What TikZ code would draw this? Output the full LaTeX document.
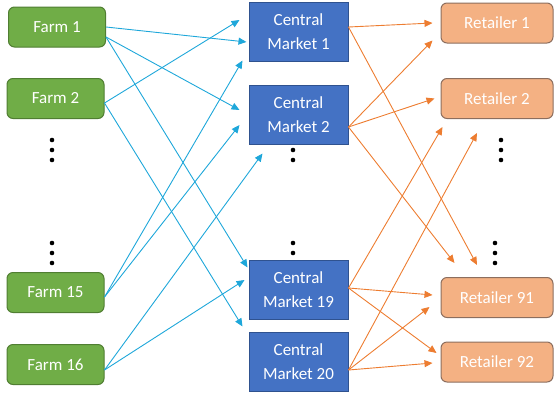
\documentclass[tikz,border=0pt]{standalone}
\usepackage{fontspec}
\setmainfont{Carlito}
\usepackage{xcolor}
\usepackage{tikz}
\usetikzlibrary{arrows.meta}
\definecolor{scgreen}{HTML}{70AD47}
\definecolor{scgreendark}{HTML}{507E32}
\definecolor{scblue}{HTML}{4472C4}
\definecolor{scbluedark}{HTML}{2F528F}
\definecolor{scorange}{HTML}{F4B183}
\definecolor{scorangedark}{HTML}{8C6E5E}
\definecolor{sccyan}{HTML}{1EA7DA}
\definecolor{scarrow}{HTML}{ED7D31}

\begin{document}
\begin{tikzpicture}[
  x=1pt, y=-1pt,
  farm/.style={draw=scgreendark, fill=scgreen, line width=1pt, rounded corners=6pt,
               minimum width=97pt, minimum height=40pt, inner sep=0pt,
               text=white, font=\fontsize{17}{20}\selectfont},
  market/.style={draw=scbluedark, fill=scblue, line width=1pt,
                 minimum width=99pt, minimum height=59pt, inner sep=0pt, align=center,
                 text=white, font=\fontsize{17}{24}\selectfont},
  retailer/.style={draw=scorangedark, fill=scorange, line width=1pt, rounded corners=6pt,
                   minimum width=112pt, minimum height=40pt, inner sep=0pt,
                   text=white, font=\fontsize{17}{20}\selectfont},
  farmarrow/.style={-{Triangle[length=8pt,width=7pt]}, line width=0.9pt, draw=sccyan},
  retailarrow/.style={-{Triangle[length=8pt,width=7pt]}, line width=0.9pt, draw=scarrow}
]
\useasboundingbox (0,0) rectangle (554,394);
% farms
\node[farm] (farm1) at (57,27) {Farm 1};
\node[farm] (farm2) at (55.5,98.5) {Farm 2};
\node[farm] (farm15) at (55.5,292.5) {Farm 15};
\node[farm] (farm16) at (55.5,364.5) {Farm 16};
% central markets
\node[market] (cm1) at (298.5,31.5) {Central\\Market 1};
\node[market] (cm2) at (298.5,114.5) {Central\\Market 2};
\node[market] (cm19) at (298.5,289.5) {Central\\Market 19};
\node[market] (cm20) at (298.5,361.5) {Central\\Market 20};
% retailers
\node[retailer] (r1) at (497,23) {Retailer 1};
\node[retailer] (r2) at (497,98.5) {Retailer 2};
\node[retailer] (r91) at (497,297.5) {Retailer 91};
\node[retailer] (r92) at (497,362) {Retailer 92};
% skipped rows
\foreach \x/\ys in {52/{140,150,160}, 52/{243,253,263}, 293/{150,160}, 293/{243,253},
                    501/{140,150,160}, 495/{243,253,263}}
  \foreach \y in \ys
    \fill (\x,\y) circle (2.3pt);
% farms to central markets
\draw[farmarrow] (farm1.east) -- ([xshift=-2pt,yshift=-10.5pt]cm1.west);
\draw[farmarrow] ([yshift=-10pt]farm1.east) -- ([xshift=-9pt,yshift=4.5pt]cm2.west);
\draw[farmarrow] ([yshift=-10pt]farm1.east) -- ([xshift=-1pt,yshift=-8pt]cm19.north west);
\draw[farmarrow] ([yshift=-4.5pt]farm2.east) -- ([xshift=-9pt,yshift=11.5pt]cm1.west);
\draw[farmarrow] ([yshift=-4.5pt]farm2.east) -- ([xshift=-6pt,yshift=5pt]cm20.north west);
\draw[farmarrow] ([yshift=-4.5pt]farm15.east) -- ([xshift=-6pt,yshift=1pt]cm1.south west);
\draw[farmarrow] ([yshift=-4.5pt]farm15.east) -- ([xshift=-9pt,yshift=-10.5pt]cm2.west);
\draw[farmarrow] ([yshift=-5.5pt]farm16.east) -- ([xshift=14pt,yshift=-9pt]cm2.south west);
\draw[farmarrow] ([yshift=-5.5pt]farm16.east) -- ([xshift=-4pt,yshift=9.5pt]cm19.west);
% central markets to retailers
\draw[retailarrow] ([yshift=4.5pt]cm1.east) -- ([xshift=-8pt]r1.west);
\draw[retailarrow] ([yshift=4.5pt]cm1.east) -- ([xshift=-20pt,yshift=12pt]r91.north);
\draw[retailarrow] ([yshift=-12.5pt]cm2.east) -- ([xshift=-8pt,yshift=3pt]r1.south west);
\draw[retailarrow] ([yshift=-12.5pt]cm2.east) -- ([xshift=-6pt]r2.west);
\draw[retailarrow] ([yshift=-12.5pt]cm2.east) -- ([xshift=14pt,yshift=14pt]r91.north west);
\draw[retailarrow] ([yshift=1.5pt]cm19.east) -- ([xshift=2pt,yshift=-8pt]r2.south west);
\draw[retailarrow] ([yshift=1.5pt]cm19.east) -- ([xshift=-8pt,yshift=2.5pt]r91.west);
\draw[retailarrow] ([yshift=1.5pt]cm19.east) -- ([xshift=-4pt,yshift=9pt]r92.west);
\draw[retailarrow] ([yshift=-8.5pt]cm20.east) -- ([xshift=-20pt,yshift=-14pt]r2.south);
\draw[retailarrow] ([yshift=-8.5pt]cm20.east) -- ([xshift=-11pt,yshift=-9.5pt]r91.west);
\draw[retailarrow] ([yshift=-8.5pt]cm20.east) -- ([xshift=-8pt,yshift=-1pt]r92.west);
\end{tikzpicture}
\end{document}
